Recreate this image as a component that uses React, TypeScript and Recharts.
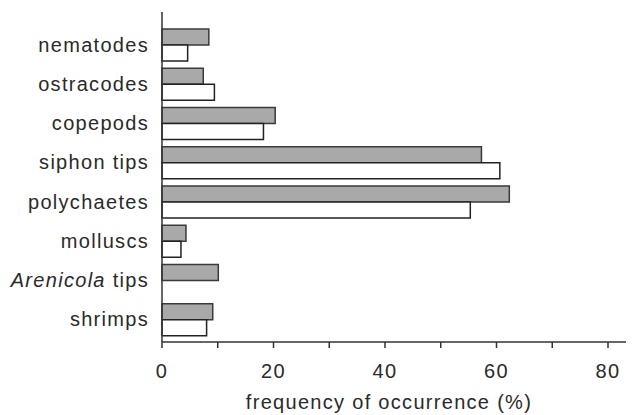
import React from "react";
import { BarChart, Bar, XAxis, YAxis } from "recharts";

const categories = ["nematodes", "ostracodes", "copepods", "siphon tips", "polychaetes", "molluscs", "Arenicola tips", "shrimps"];
const grayValues = [8.4, 7.4, 20.3, 57.3, 62.3, 4.3, 10.1, 9.1];
const whiteValues = [4.6, 9.4, 18.2, 60.6, 55.3, 3.4, 0, 8.0];
const xTicks = [0, 10, 20, 30, 40, 50, 60, 70, 80];

const data = categories.map((c, i) => ({ name: c, gray: grayValues[i], white: whiteValues[i] }));

const FONT = "'Liberation Sans', Arial, sans-serif";
const textStyle = { fontFamily: FONT, fontSize: 20, letterSpacing: 1.3, fill: "#2a2a2a" };

const YTick = (props: any) => {
  const { x, y, payload } = props;
  const v: string = payload.value;
  if (v.startsWith("Arenicola")) {
    return (
      <text x={x} y={y} dy={7} textAnchor="end" style={textStyle}>
        <tspan fontStyle="italic">Arenicola</tspan>
        <tspan> tips</tspan>
      </text>
    );
  }
  return (
    <text x={x} y={y} dy={7} textAnchor="end" style={textStyle}>
      {v}
    </text>
  );
};

const XTick = (props: any) => {
  const { x, y, payload } = props;
  if (payload.value % 20 !== 0) return null;
  return (
    <text x={x} y={y} dy={28} textAnchor="middle" style={textStyle}>
      {payload.value}
    </text>
  );
};

export default function App() {
  return (
    <div style={{ position: "absolute", left: 0, top: 0 }}>
      <BarChart
        width={633}
        height={415}
        data={data}
        layout="vertical"
        margin={{ top: 12, right: 7, left: 0, bottom: 0 }}
        barGap={0}
      >
        <XAxis
          type="number"
          domain={[0, 80]}
          ticks={xTicks}
          interval={0}
          padding={{ left: 0, right: 18 }}
          height={73}
          tickSize={6}
          tick={<XTick />}
          axisLine={{ stroke: "#333", strokeWidth: 1.5 }}
          tickLine={{ stroke: "#333", strokeWidth: 1.5 }}
          label={{
            content: (p: any) => {
              const vb = p.viewBox || {};
              return (
                <text x={(vb.x || 0) + 227} y={409} textAnchor="middle" style={textStyle}>
                  frequency of occurrence (%)
                </text>
              );
            },
          }}
        />
        <YAxis
          type="category"
          dataKey="name"
          width={162}
          padding={{ top: 13, bottom: 3 }}
          tickLine={false}
          tickSize={0}
          tickMargin={13}
          tick={<YTick />}
          axisLine={{ stroke: "#333", strokeWidth: 1.5 }}
          interval={0}
        />
        <Bar dataKey="gray" fill="#a9a9a9" stroke="#3a3a3a" strokeWidth={1.5} barSize={16} isAnimationActive={false} />
        <Bar dataKey="white" fill="#ffffff" stroke="#222" strokeWidth={1.5} barSize={16} isAnimationActive={false} />
      </BarChart>
    </div>
  );
}
